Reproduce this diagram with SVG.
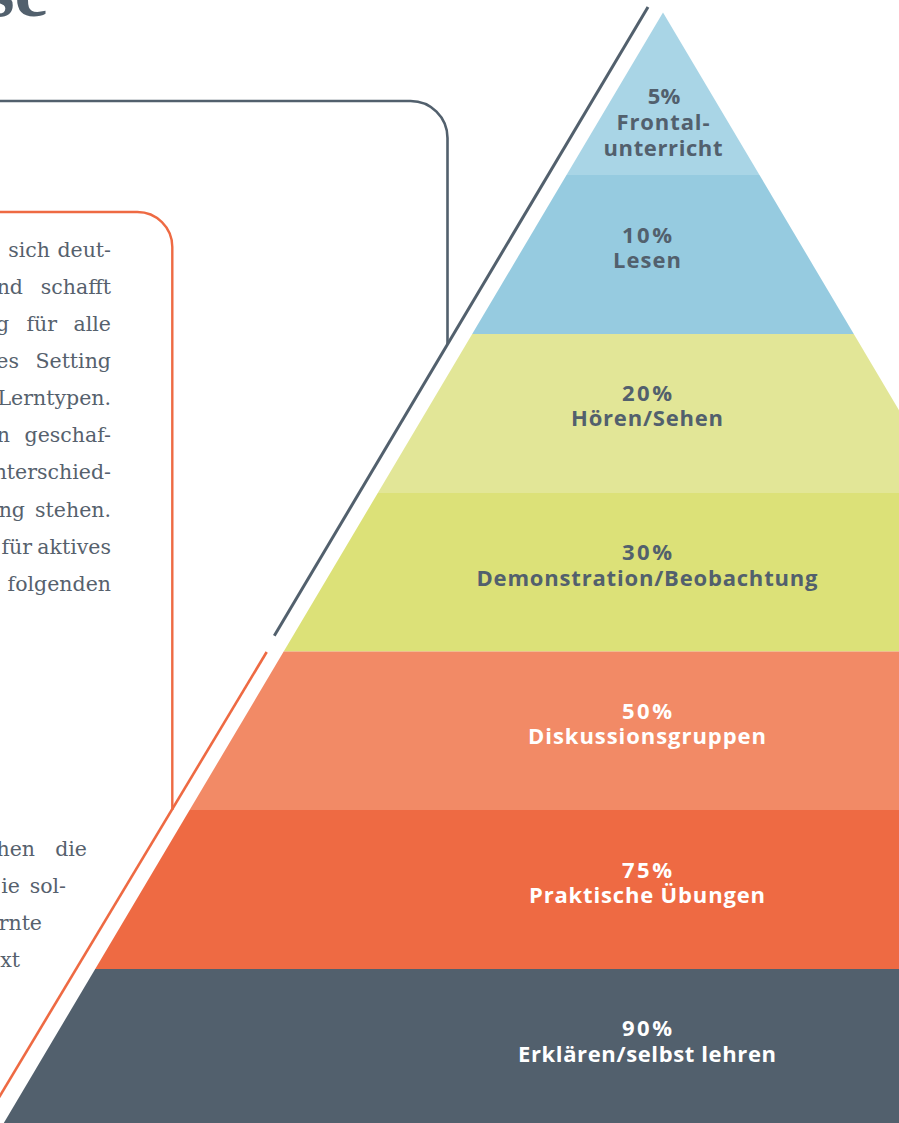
<svg xmlns="http://www.w3.org/2000/svg" width="899" height="1123" viewBox="0 0 899 1123">
<style>
.body{font-family:"DejaVu Serif","Liberation Serif",serif;font-size:20.5px;fill:#56616d;}
.lbl{font-family:"Open Sans","Noto Sans",sans-serif;font-weight:700;font-size:22px;text-anchor:middle;}
.dk{fill:#52606d;}
.wt{fill:#ffffff;}
.frame{fill:none;stroke-linecap:butt;}
</style>
<rect width="899" height="1123" fill="#ffffff"/>
<text x="-15" y="16" font-family="Liberation Serif, serif" font-weight="700" font-size="76" fill="#52606d">se</text>
<g id="frames">
<path class="frame" d="M0,101 H410 A37,37 0 0 1 447.5,138 V344" stroke="#52606d" stroke-width="2.6"/>
<path class="frame" d="M0,212 H137 A35,35 0 0 1 172.3,247 V810" stroke="#ee6a43" stroke-width="2.4"/>
</g>
<g id="text-upper" class="body">
<text x="50" y="257" text-anchor="end">sich</text><text x="111" y="257" text-anchor="end">deut-</text>
<text x="23" y="294" text-anchor="end">nd</text><text x="111" y="294" text-anchor="end">schafft</text>
<text x="9" y="331" text-anchor="end">g</text><text x="57" y="331" text-anchor="end">für</text><text x="111" y="331" text-anchor="end">alle</text>
<text x="19" y="368" text-anchor="end">es</text><text x="111" y="368" text-anchor="end">Setting</text>
<text x="111" y="405" text-anchor="end">Lerntypen.</text>
<text x="10" y="442" text-anchor="end">n</text><text x="111" y="442" text-anchor="end">geschaf-</text>
<text x="111" y="479" text-anchor="end">nterschied-</text>
<text x="25" y="517" text-anchor="end">ng</text><text x="111" y="517" text-anchor="end">stehen.</text>
<text x="32" y="554" text-anchor="end">für</text><text x="111" y="554" text-anchor="end">aktives</text>
<text x="111" y="591" text-anchor="end">folgenden</text>
</g>
<g id="text-lower" class="body">
<text x="35" y="856" text-anchor="end">hen</text><text x="87" y="856" text-anchor="end">die</text>
<text x="20" y="893" text-anchor="end">ie</text><text x="66" y="893" text-anchor="end">sol-</text>
<text x="42" y="930" text-anchor="end">rnte</text>
<text x="20" y="967" text-anchor="end">xt</text>
</g>
<g id="band1"><polygon points="663,12.5 759.5,175 566.5,175" fill="#a9d5e6"/>
<text class="lbl dk" x="664" y="104">5%</text>
<text class="lbl dk" x="663" y="130" textLength="93">Frontal-</text>
<text class="lbl dk" x="663" y="156" textLength="119">unterricht</text></g>
<g id="band2"><polygon points="566.5,175 759.5,175 853.8,334 472.2,334" fill="#96cbe0"/>
<text class="lbl dk" x="647" y="243" textLength="50">10%</text>
<text class="lbl dk" x="647" y="268" textLength="68">Lesen</text></g>
<g id="band3"><polygon points="472.2,334 853.8,334 948.2,493 377.8,493" fill="#e2e697"/>
<text class="lbl dk" x="647" y="401" textLength="50">20%</text>
<text class="lbl dk" x="647" y="426" textLength="152">Hören/Sehen</text></g>
<g id="band4"><polygon points="377.8,493 948.2,493 1042.3,651.5 283.7,651.5" fill="#dce178"/>
<text class="lbl dk" x="647" y="560" textLength="50">30%</text>
<text class="lbl dk" x="647" y="586" textLength="341">Demonstration/Beobachtung</text></g>
<g id="band5"><polygon points="283.7,651.5 1042.3,651.5 1136.4,810 189.6,810" fill="#f28a66"/>
<text class="lbl wt" x="647" y="719" textLength="50">50%</text>
<text class="lbl wt" x="647" y="744" textLength="238">Diskussionsgruppen</text></g>
<g id="band6"><polygon points="189.6,810 1136.4,810 1230.8,969 95.2,969" fill="#ee6a43"/>
<text class="lbl wt" x="647" y="878" textLength="50">75%</text>
<text class="lbl wt" x="647" y="903" textLength="236">Praktische Übungen</text></g>
<g id="band7"><polygon points="95.2,969 1230.8,969 1322.2,1123 3.8,1123" fill="#52606d"/>
<text class="lbl wt" x="647" y="1036" textLength="50">90%</text>
<text class="lbl wt" x="647" y="1062" textLength="258">Erklären/selbst lehren</text></g>
<g id="connectors">
<line x1="648" y1="7" x2="274.3" y2="635.7" stroke="#52606d" stroke-width="3"/>
<line x1="266.7" y1="652" x2="-5" y2="1104" stroke="#ee6a43" stroke-width="2.6"/>
</g>
</svg>
